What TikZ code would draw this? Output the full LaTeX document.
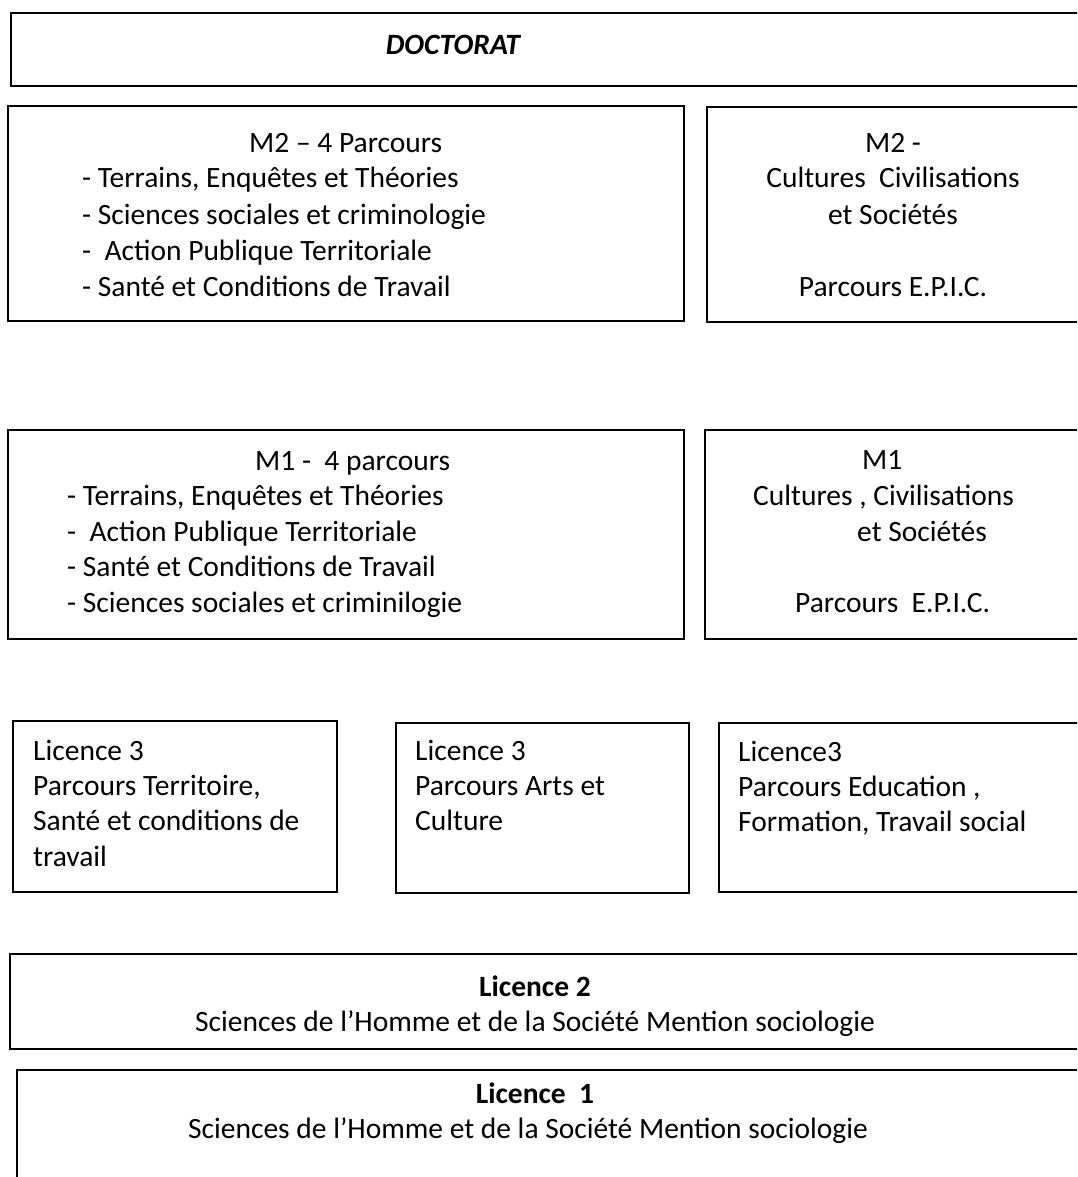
\documentclass[tikz,border=0pt]{standalone}
\usepackage{fontspec}
\setmainfont{Carlito}
\begin{document}
\begin{tikzpicture}[x=1pt,y=-1pt,
  boxst/.style={draw=black,line width=1.7pt,anchor=north west,inner sep=0pt,fill=none},
  txt/.style={inner sep=0pt,font=\fontsize{29.5}{36}\selectfont,anchor=base west},
  ctxt/.style={inner sep=0pt,font=\fontsize{29.5}{36}\selectfont,anchor=base}]
\path[use as bounding box] (0,0) rectangle (1077,1177);
\clip (0,0) rectangle (1077,1177);
\fill[white] (0,0) rectangle (1077,1177);
% boxes
\node[boxst,minimum width=1080pt,minimum height=73pt] (doc) at (10,12) {};
\node[boxst,minimum width=676pt,minimum height=215pt] (m2l) at (7,105) {};
\node[boxst,minimum width=384pt,minimum height=215pt] (m2r) at (706,106) {};
\node[boxst,minimum width=676pt,minimum height=209pt] (m1l) at (7,429) {};
\node[boxst,minimum width=386pt,minimum height=209pt] (m1r) at (704,429) {};
\node[boxst,minimum width=324pt,minimum height=171pt] (l3a) at (12,720) {};
\node[boxst,minimum width=293pt,minimum height=170pt] (l3b) at (395,722) {};
\node[boxst,minimum width=372pt,minimum height=169pt] (l3c) at (718,722) {};
\node[boxst,minimum width=1081pt,minimum height=95pt] (l2) at (9,953) {};
\node[boxst,minimum width=1074pt,minimum height=121pt] (l1) at (16,1069) {};
% DOCTORAT
\node[ctxt,font=\fontsize{29.5}{36}\selectfont\bfseries\itshape] (doct) at (453,55) {DOCTORAT};
% M2 left
\node[txt] (m2la) at (249,153) {M2 – 4 Parcours};
\node[txt] (m2lb) at (82,188) {- Terrains, Enquêtes et Théories};
\node[txt] (m2lc) at (82,224) {- Sciences sociales et criminologie};
\node[txt] (m2ld) at (82,260) {- \ Action Publique Territoriale};
\node[txt] (m2le) at (82,296) {- Santé et Conditions de Travail};
% M2 right
\node[ctxt] (m2ra) at (893,153) {M2 -};
\node[ctxt] (m2rb) at (893,188) {Cultures \ Civilisations};
\node[ctxt] (m2rc) at (893,224) {et Sociétés};
\node[ctxt] (m2rd) at (893,296) {Parcours E.P.I.C.};
% M1 left
\node[txt] (m1la) at (255,470) {M1 - \ 4 parcours};
\node[txt] (m1lb) at (67,505) {- Terrains, Enquêtes et Théories};
\node[txt] (m1lc) at (67,541) {- \ Action Publique Territoriale};
\node[txt] (m1ld) at (67,576) {- Santé et Conditions de Travail};
\node[txt] (m1le) at (67,612) {- Sciences sociales et criminilogie};
% M1 right
\node[txt] (m1ra) at (862,469) {M1};
\node[txt] (m1rb) at (753,505) {Cultures , Civilisations};
\node[txt] (m1rc) at (857,541) {et Sociétés};
\node[txt] (m1rd) at (795,612) {Parcours \ E.P.I.C.};
% L3 boxes
\node[txt] (l3a1) at (33,760) {Licence 3};
\node[txt] (l3a2) at (33,795) {Parcours Territoire,};
\node[txt] (l3a3) at (33,830) {Santé et conditions de};
\node[txt] (l3a4) at (33,866) {travail};
\node[txt] (l3b1) at (415,760) {Licence 3};
\node[txt] (l3b2) at (415,795) {Parcours Arts et};
\node[txt] (l3b3) at (415,830) {Culture};
\node[txt] (l3c1) at (738,761) {Licence3};
\node[txt] (l3c2) at (738,796) {Parcours Education ,};
\node[txt] (l3c3) at (738,831) {Formation, Travail social};
% L2
\node[ctxt,font=\fontsize{29.5}{36}\selectfont\bfseries] (l2a) at (535,996) {Licence 2};
\node[ctxt] (l2b) at (535,1031) {Sciences de l’Homme et de la Société Mention sociologie};
% L1
\node[ctxt,font=\fontsize{29.5}{36}\selectfont\bfseries] (l1a) at (535,1103) {Licence \ 1};
\node[ctxt] (l1b) at (528,1138) {Sciences de l’Homme et de la Société Mention sociologie};
\end{tikzpicture}
\end{document}
